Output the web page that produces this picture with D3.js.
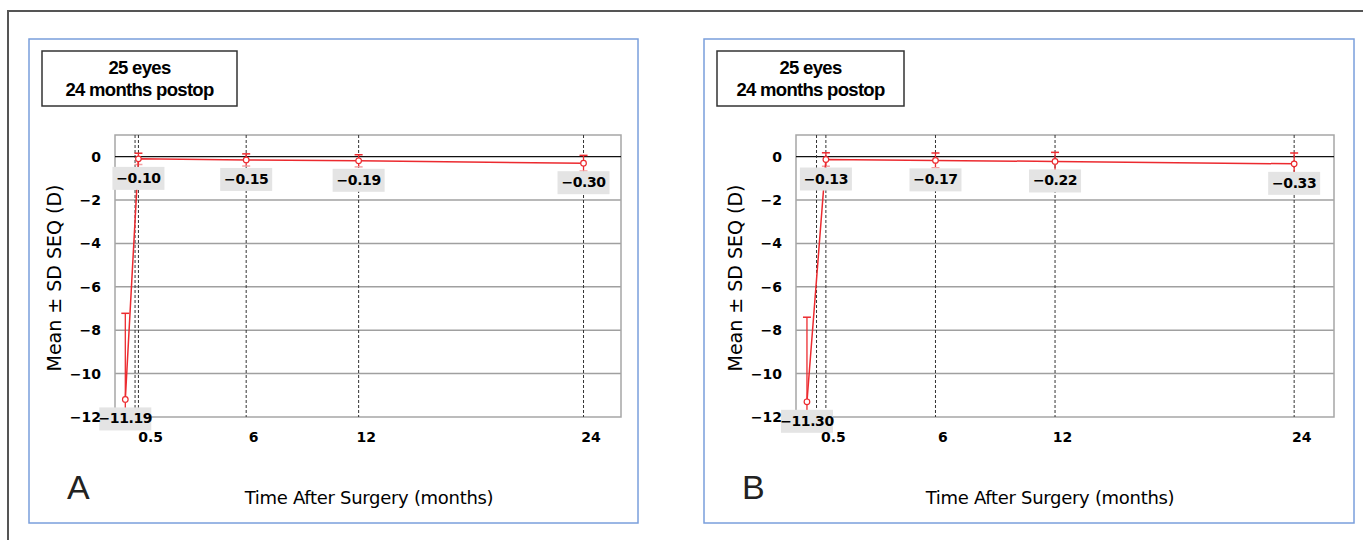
<!DOCTYPE html>
<html>
<head>
<meta charset="utf-8">
<script src="https://cdn.jsdelivr.net/npm/d3@7"></script>
<style>
  body { margin: 0; background: #fff; }
  svg { display: block; }
</style>
</head>
<body>
<div id="chart"></div>
<script>
// ---- data ----
const panelNames = ["A", "B"];
const boxLines = ["25 eyes", "24 months postop"];
const xTickValues = [0.5, 6, 12, 24];
const yTickValues = [0, -2, -4, -6, -8, -10, -12];

// panel A
const monthsA = [-0.45, 0.25, 6, 12, 24];
const meanA = [-11.19, -0.10, -0.15, -0.19, -0.30];
const sdA = [3.97, 0.26, 0.28, 0.28, 0.36];
const refLinesA = [0.07, 0.25, 6, 12, 24];

// panel B
const monthsB = [-0.45, 0.5, 6, 12, 24];
const meanB = [-11.30, -0.13, -0.17, -0.22, -0.33];
const sdB = [3.90, 0.31, 0.34, 0.42, 0.50];
const refLinesB = [0.03, 0.5, 6, 12, 24];

// ---- layout ----
const width = 1363, height = 540;
const red = "#ec2a2f";
const fmt = d3.format(".2f");

const layouts = [
  { frame: [29, 39, 638, 523], plot: [115, 621, 135, 417], boxW: 195,
    months: monthsA, mean: meanA, sd: sdA, refs: refLinesA },
  { frame: [704, 39, 1354, 523], plot: [796, 1334, 135, 417], boxW: 187,
    months: monthsB, mean: meanB, sd: sdB, refs: refLinesB }
];

const svg = d3.select("#chart").append("svg")
    .attr("width", width)
    .attr("height", height);

// outer figure frame (top and left edges)
svg.append("path")
    .attr("d", `M8,${height} V11 H${width}`)
    .style("fill", "none")
    .style("stroke", "#555")
    .style("stroke-width", 2);

layouts.forEach(function(L, i){
    const [fx0, fy0, fx1, fy1] = L.frame;
    const [pl, pr, pt, pb] = L.plot;
    const g = svg.append("g");

    // blue panel border
    g.append("rect")
        .attr("x", fx0).attr("y", fy0)
        .attr("width", fx1 - fx0).attr("height", fy1 - fy0)
        .style("fill", "none")
        .style("stroke", "#7a9fdc")
        .style("stroke-width", 1.5);

    // info box
    const bx = fx0 + 13, by = 51;
    g.append("rect")
        .attr("x", bx).attr("y", by)
        .attr("width", L.boxW).attr("height", 55)
        .style("fill", "#fff")
        .style("stroke", "#333")
        .style("stroke-width", 1.5);
    g.selectAll("text.boxline")
        .data(boxLines)
      .enter().append("text")
        .attr("class", "boxline")
        .attr("x", bx + L.boxW / 2)
        .attr("y", (d, j) => by + 23 + j * 22)
        .attr("text-anchor", "middle")
        .style("font-family", "'Liberation Sans', Arial, sans-serif")
        .style("font-weight", "bold")
        .style("font-size", "18.5px")
        .style("letter-spacing", "-0.7px")
        .style("fill", "#000")
        .text(d => d);

    const x = d3.scaleLinear().domain([-1, 26]).range([pl, pr]);
    const y = d3.scaleLinear().domain([-12, 1]).range([pb, pt]);

    const clipId = "clip" + i;
    g.append("clipPath").attr("id", clipId)
      .append("rect")
        .attr("x", pl).attr("y", pt)
        .attr("width", pr - pl).attr("height", pb - pt);

    // horizontal grid
    g.append("g")
        .selectAll("line")
        .data(yTickValues.filter(v => v !== 0 && v !== -12))
      .enter().append("line")
        .attr("x1", pl).attr("x2", pr)
        .attr("y1", d => y(d)).attr("y2", d => y(d))
        .style("stroke", "#a0a0a0")
        .style("stroke-width", 1.5);

    // plot border
    g.append("rect")
        .attr("x", pl).attr("y", pt)
        .attr("width", pr - pl).attr("height", pb - pt)
        .style("fill", "none")
        .style("stroke", "#a6a6a6")
        .style("stroke-width", 1.5);

    // zero line
    g.append("line")
        .attr("x1", pl).attr("x2", pr)
        .attr("y1", y(0)).attr("y2", y(0))
        .style("stroke", "#111")
        .style("stroke-width", 1.2);

    // dashed time markers
    g.append("g")
        .selectAll("line")
        .data(L.refs)
      .enter().append("line")
        .attr("x1", d => x(d)).attr("x2", d => x(d))
        .attr("y1", pt).attr("y2", pb)
        .style("stroke", "#333")
        .style("stroke-width", 1)
        .style("stroke-dasharray", "3,2");

    const pts = L.months.map((m, j) => ({ m: m, v: L.mean[j], sd: L.sd[j] }));

    const marks = g.append("g").attr("clip-path", `url(#${clipId})`);

    // error bars
    const eb = marks.selectAll("g.eb")
        .data(pts)
      .enter().append("g").attr("class", "eb");
    eb.append("line")
        .attr("x1", d => x(d.m)).attr("x2", d => x(d.m))
        .attr("y1", d => y(d.v + d.sd)).attr("y2", d => y(d.v - d.sd))
        .style("stroke", red)
        .style("stroke-width", 1.3);
    eb.append("line")
        .attr("x1", d => x(d.m) - 4).attr("x2", d => x(d.m) + 4)
        .attr("y1", d => y(d.v + d.sd)).attr("y2", d => y(d.v + d.sd))
        .style("stroke", red)
        .style("stroke-width", 1.5);
    eb.append("line")
        .attr("x1", d => x(d.m) - 4).attr("x2", d => x(d.m) + 4)
        .attr("y1", d => y(d.v - d.sd)).attr("y2", d => y(d.v - d.sd))
        .style("stroke", "#f4a0a2")
        .style("stroke-width", 1.5);

    // mean line
    const line = d3.line().x(d => x(d.m)).y(d => y(d.v));
    marks.append("path")
        .datum(pts)
        .attr("d", line)
        .style("fill", "none")
        .style("stroke", red)
        .style("stroke-width", 1.5);

    marks.selectAll("circle")
        .data(pts)
      .enter().append("circle")
        .attr("cx", d => x(d.m)).attr("cy", d => y(d.v))
        .attr("r", 2.8)
        .style("fill", "#fff")
        .style("stroke", red)
        .style("stroke-width", 1.2);

    // value labels
    const lab = g.append("g").selectAll("g")
        .data(pts)
      .enter().append("g")
        .attr("transform", d => `translate(${x(d.m)},${y(d.v) + 8})`);
    lab.append("rect")
        .attr("x", -26).attr("y", 0)
        .attr("width", 52).attr("height", 23)
        .style("fill", "#e4e4e4");
    lab.append("text")
        .attr("x", 0).attr("y", 16)
        .attr("text-anchor", "middle")
        .style("font-family", "'DejaVu Sans', Verdana, sans-serif")
        .style("font-weight", "bold")
        .style("font-size", "14px")
        .style("letter-spacing", "-0.4px")
        .style("fill", "#000")
        .text(d => fmt(d.v));

    // axes
    const yAxis = d3.axisLeft(y).tickValues(yTickValues).tickSize(0).tickPadding(14)
        .tickFormat(d3.format("d"));
    const yg = g.append("g").attr("transform", `translate(${pl},0)`).call(yAxis);
    const xAxis = d3.axisBottom(x).tickValues(xTickValues).tickSize(0).tickPadding(15)
        .tickFormat(d => d);
    const xg = g.append("g").attr("transform", `translate(0,${pb})`).call(xAxis);
    [yg, xg].forEach(function(a){
        a.select(".domain").remove();
        a.selectAll("text")
            .style("font-family", "'DejaVu Sans', Verdana, sans-serif")
            .style("font-weight", "bold")
            .style("font-size", "14px")
            .style("fill", "#000");
    });
    xg.selectAll("text").attr("dx", 7);

    // axis titles
    g.append("text")
        .attr("transform", `translate(${pl - 61},${(pt + pb) / 2 + 2}) rotate(-90)`)
        .attr("text-anchor", "middle")
        .attr("dy", "0.35em")
        .style("font-family", "'DejaVu Sans', Verdana, sans-serif")
        .style("font-size", "19px")
        .style("fill", "#000")
        .text("Mean \u00b1 SD SEQ (D)");
    g.append("text")
        .attr("x", pl + 254)
        .attr("y", 504)
        .attr("text-anchor", "middle")
        .style("font-family", "'DejaVu Sans', Verdana, sans-serif")
        .style("font-size", "18px")
        .style("letter-spacing", "-0.3px")
        .style("fill", "#000")
        .text("Time After Surgery (months)");

    // panel letter
    g.append("text")
        .attr("x", fx0 + 38)
        .attr("y", 499)
        .style("font-family", "'Liberation Sans', Arial, sans-serif")
        .style("font-size", "34px")
        .style("fill", "#222")
        .text(panelNames[i]);
});
</script>
</body>
</html>
